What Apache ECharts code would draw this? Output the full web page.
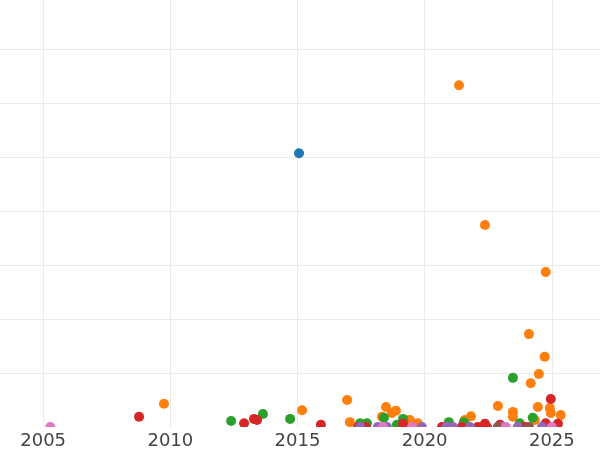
<!DOCTYPE html>
<html>
<head>
<meta charset="utf-8">
<script src="https://cdn.jsdelivr.net/npm/echarts@6/dist/echarts.min.js"></script>
<style>
  html, body { margin: 0; padding: 0; background: #fff; }
  #chart { width: 600px; height: 450px; }
</style>
</head>
<body>
<div id="chart"></div>
<script>
// points by colour group: [year, value]
const blueData = [[2015.06, 507]];
const orangeData = [
  [2021.35, 633], [2022.37, 374], [2024.76, 287], [2024.10, 172], [2024.72, 130],
  [2024.49, 98], [2024.17, 81], [2009.75, 43], [2015.18, 31], [2016.95, 50],
  [2017.06, 9], [2018.48, 37], [2018.32, 19], [2018.71, 26], [2018.87, 30],
  [2019.42, 13], [2019.73, 7], [2021.58, 13], [2021.82, 20], [2022.88, 39],
  [2023.47, 28], [2023.47, 19], [2024.45, 37], [2024.33, 13], [2024.92, 35],
  [2024.96, 26], [2025.35, 22]
];
const greenData = [
  [2012.39, 11], [2013.64, 24], [2014.71, 15], [2017.46, 7], [2017.73, 7],
  [2018.40, 17], [2018.91, 4], [2019.15, 15], [2020.95, 9], [2021.54, 9],
  [2023.47, 91], [2023.74, 7], [2024.25, 17]
];
const redData = [
  [2008.77, 19], [2012.90, 7], [2013.29, 15], [2013.41, 13], [2015.92, 4],
  [2017.38, 0], [2017.69, 0], [2019.15, 6], [2019.18, 0], [2020.68, 0],
  [2021.46, 0], [2022.09, 0], [2022.37, 6], [2022.45, 0], [2022.96, 4],
  [2023.94, 0], [2024.76, 7], [2024.96, 52], [2025.24, 6]
];
const purpleData = [
  [2017.46, 0], [2018.16, 0], [2018.52, 0], [2019.89, 0], [2020.87, 0],
  [2021.11, 0], [2021.78, 0], [2023.07, 0], [2023.66, 0], [2024.61, 0]
];
const brownData = [[2022.88, 0], [2024.10, 0]];
const pinkData = [[2005.28, 0], [2018.36, 0], [2019.50, 0], [2023.19, 0], [2025.00, 0]];

const groups = [
  { data: blueData, color: '#1f77b4' },
  { data: orangeData, color: '#ff7f0e' },
  { data: greenData, color: '#2ca02c' },
  { data: redData, color: '#d62728' },
  { data: purpleData, color: '#9467bd' },
  { data: brownData, color: '#8c564b' },
  { data: pinkData, color: '#e377c2' }
];

const chart = echarts.init(document.getElementById('chart'), null, { renderer: 'canvas' });

const option = {
  animation: false,
  backgroundColor: '#fff',
  grid: { left: -84, right: -79, top: -20, bottom: 23, outerBoundsMode: 'none', containLabel: false },
  xAxis: [
    {
      type: 'value', min: 2000, max: 2030, interval: 5, position: 'bottom',
      axisLine: { show: false }, axisTick: { show: false },
      axisLabel: { show: false },
      splitLine: { show: true, lineStyle: { color: '#ebebeb', width: 1 } }
    },
    {
      // labels only, kept above the bottom mask
      type: 'value', min: 2000, max: 2030, interval: 5, position: 'bottom', z: 20,
      axisLine: { show: false }, axisTick: { show: false },
      splitLine: { show: false },
      axisLabel: {
        margin: 5, color: '#444', fontSize: 18,
        fontFamily: 'DejaVu Sans',
        formatter: v => String(v)
      }
    }
  ],
  yAxis: {
    type: 'value', min: 0, max: 827.8, interval: 100,
    axisLine: { show: false }, axisTick: { show: false },
    axisLabel: { show: false },
    splitLine: { show: true, lineStyle: { color: '#ebebeb', width: 1 } }
  },
  graphic: [
    {
      type: 'rect', z: 10, silent: true,
      shape: { x: 0, y: 427, width: 600, height: 23 },
      style: { fill: '#fff' }
    }
  ],
  series: groups.map(g => ({
    type: 'scatter',
    xAxisIndex: 0,
    symbolSize: 10,
    itemStyle: { color: g.color, opacity: 1 },
    data: g.data
  }))
};

chart.setOption(option);
</script>
</body>
</html>
